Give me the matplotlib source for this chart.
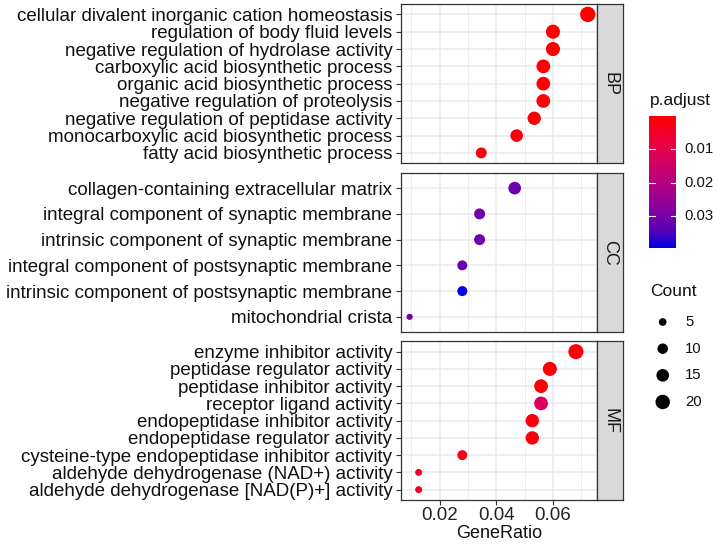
import matplotlib
matplotlib.use("Agg")
import matplotlib.pyplot as plt
import numpy as np
from matplotlib.colors import LinearSegmentedColormap, Normalize

plt.rcParams['font.family'] = ['Liberation Sans', 'DejaVu Sans']

# ---- data ----
bp_terms = ['cellular divalent inorganic cation homeostasis', 'regulation of body fluid levels',
            'negative regulation of hydrolase activity', 'carboxylic acid biosynthetic process',
            'organic acid biosynthetic process', 'negative regulation of proteolysis',
            'negative regulation of peptidase activity', 'monocarboxylic acid biosynthetic process',
            'fatty acid biosynthetic process']
bp_ratio = [0.0723, 0.0600, 0.0600, 0.0566, 0.0566, 0.0566, 0.0534, 0.0472, 0.0347]
bp_count = [23, 19, 19, 18, 18, 18, 17, 15, 11]
bp_padj = [0.0001, 0.0004, 0.0004, 0.0006, 0.0006, 0.0008, 0.0009, 0.0015, 0.0025]

cc_terms = ['collagen-containing extracellular matrix', 'integral component of synaptic membrane',
            'intrinsic component of synaptic membrane', 'integral component of postsynaptic membrane',
            'intrinsic component of postsynaptic membrane', 'mitochondrial crista']
cc_ratio = [0.0465, 0.0341, 0.0341, 0.0280, 0.0280, 0.0094]
cc_count = [15, 11, 11, 9, 9, 3]
cc_padj = [0.0315, 0.031, 0.031, 0.0315, 0.0395, 0.031]

mf_terms = ['enzyme inhibitor activity', 'peptidase regulator activity', 'peptidase inhibitor activity',
            'receptor ligand activity', 'endopeptidase inhibitor activity',
            'endopeptidase regulator activity', 'cysteine-type endopeptidase inhibitor activity',
            'aldehyde dehydrogenase (NAD+) activity', 'aldehyde dehydrogenase [NAD(P)+] activity']
mf_ratio = [0.0681, 0.0589, 0.0558, 0.0558, 0.0527, 0.0527, 0.0280, 0.0126, 0.0126]
mf_count = [22, 19, 18, 18, 17, 17, 9, 4, 4]
mf_padj = [0.0005, 0.0010, 0.0012, 0.0130, 0.0015, 0.0016, 0.0025, 0.0055, 0.0055]

facets = ['BP', 'CC', 'MF']
legend_counts = [5, 10, 15, 20]
cbar_ticks = [0.01, 0.02, 0.03]

# red (low p) -> blue (high p), colours sampled from the reference bar
cmap = LinearSegmentedColormap.from_list('rb', [
    (0.0, '#FF0000'), (0.25, '#E6004C'), (0.5, '#B6007E'),
    (0.75, '#7C00A8'), (0.88, '#5400B8'), (1.0, '#0000E8')])

all_padj = bp_padj + cc_padj + mf_padj
norm = Normalize(min(all_padj), max(all_padj))
all_ratio = bp_ratio + cc_ratio + mf_ratio
span = max(all_ratio) - min(all_ratio)
xlim = (min(all_ratio) - 0.05 * span, max(all_ratio) + 0.05 * span)


def msize(c):
    d = 1.0 + 3.0 * np.sqrt(np.asarray(c, float))   # diameter in px
    return (d * 0.72) ** 2


W, H = 721, 550
fig = plt.figure(figsize=(W / 100, H / 100), dpi=100)


def box(x0, y0, x1, y1):
    return [x0 / W, 1 - y1 / H, (x1 - x0) / W, (y1 - y0) / H]


panels = [(4, 163.3, bp_terms, bp_ratio, bp_count, bp_padj),
          (172.7, 332.3, cc_terms, cc_ratio, cc_count, cc_padj),
          (341.3, 500, mf_terms, mf_ratio, mf_count, mf_padj)]

for k, (top, bot, terms, ratio, count, padj) in enumerate(panels):
    ax = fig.add_axes(box(400.7, top, 596.7, bot))
    n = len(terms)
    y = np.arange(n)[::-1]
    ax.set_xlim(*xlim)
    ax.set_ylim(-0.6, n - 0.4)
    ax.set_xticks([0.02, 0.04, 0.06])
    ax.set_xticks([0.01, 0.03, 0.05, 0.07], minor=True)
    ax.set_yticks(y)
    ax.set_yticklabels(terms, fontsize=13.5, color='#111111')
    ax.grid(which='major', color='#EBEBEB', lw=1.1)
    ax.grid(which='minor', axis='x', color='#EBEBEB', lw=0.6)
    ax.set_axisbelow(True)
    for s in ax.spines.values():
        s.set_color('#333333')
        s.set_linewidth(0.9)
    ax.tick_params(axis='y', length=3.5, width=0.8, color='#333333', pad=2.5)
    ax.tick_params(which='minor', length=0)
    if k < 2:
        ax.tick_params(axis='x', length=0, labelbottom=False)
    else:
        ax.tick_params(axis='x', length=3.5, width=0.8, color='#333333', labelsize=13.5,
                       labelcolor='#222222', pad=1.5)
        ax.set_xlabel('GeneRatio', fontsize=13, color='#111111', labelpad=1)
    ax.scatter(ratio, y, s=msize(count), c=padj, cmap=cmap, norm=norm, linewidths=0, zorder=3)

    sax = fig.add_axes(box(596.7, top, 622.7, bot))
    sax.set_facecolor('#D9D9D9')
    sax.set_xticks([])
    sax.set_yticks([])
    for s in sax.spines.values():
        s.set_color('#333333')
        s.set_linewidth(0.9)
    sax.text(0.5, 0.5, facets[k], rotation=270, ha='center', va='center',
             fontsize=13, color='#1A1A1A', transform=sax.transAxes)

# ---- colour bar ----
cax = fig.add_axes(box(649.3, 116, 676, 248.3))
grad = np.linspace(norm.vmin, norm.vmax, 200).reshape(-1, 1)
cax.imshow(grad, cmap=cmap, norm=norm, aspect='auto', origin='lower',
           extent=[0, 1, norm.vmin, norm.vmax])
cax.set_ylim(norm.vmax, norm.vmin)
cax.set_xlim(0, 1)
cax.set_xticks([])
cax.set_yticks([])
for s in cax.spines.values():
    s.set_visible(False)
for t in cbar_ticks:
    cax.plot([0, 0.2], [t, t], color='white', lw=0.8)
    cax.plot([0.8, 1], [t, t], color='white', lw=0.8)
    cax.text(1.3, t, f'{t:.2f}', va='center', ha='left', fontsize=10.7, color='#111111')
fig.text(650 / W, 1 - 100 / H, 'p.adjust', fontsize=12.5, va='center', ha='left', color='#111111')

# ---- size legend ----
lax = fig.add_axes(box(649, 308.7, 715, 415.3))
lax.set_xlim(0, 66)
lax.set_ylim(len(legend_counts) - 0.5, -0.5)
lax.axis('off')
lax.scatter([13.7] * len(legend_counts), range(len(legend_counts)), s=msize(legend_counts),
            color='black', linewidths=0)
for i, c in enumerate(legend_counts):
    lax.text(36, i, str(c), va='center', ha='left', fontsize=10.7, color='#111111')
fig.text(650 / W, 1 - 292 / H, 'Count', fontsize=12.5, va='center', ha='left', color='#111111')

fig.savefig('out.png', dpi=100)
